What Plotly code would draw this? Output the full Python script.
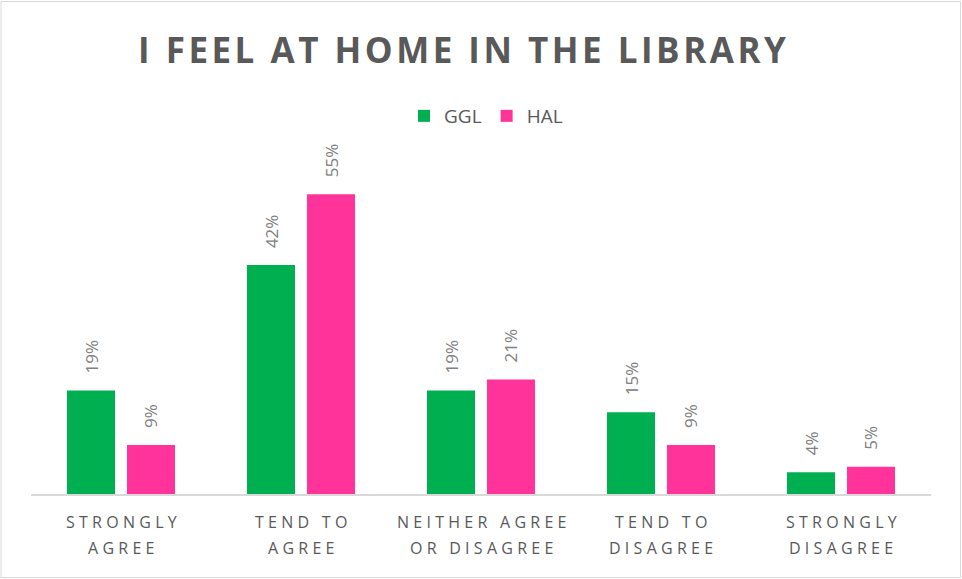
import plotly.graph_objects as go

categories = ["STRONGLY<br>AGREE", "TEND TO<br>AGREE", "NEITHER AGREE<br>OR DISAGREE", "TEND TO<br>DISAGREE", "STRONGLY<br>DISAGREE"]
ggl = [19, 42, 19, 15, 4]
hal = [9, 55, 21, 9, 5]
series_names = ["GGL", "HAL"]
title_text = "I FEEL AT HOME IN THE LIBRARY"

GREEN = "#00B050"
PINK = "#FF3399"
W, H = 962, 579
ML, MR, MT, MB = 31, 31, 167, 85
PW, PH = W - ML - MR, H - MT - MB


def spaced(s, sp="\u2009"):
    return sp.join(list(s))


idx = list(range(len(categories)))

fig = go.Figure()
fig.add_trace(go.Bar(x=idx, y=ggl, name=series_names[0], marker=dict(color=GREEN, line=dict(width=0))))
fig.add_trace(go.Bar(x=idx, y=hal, name=series_names[1], marker=dict(color=PINK, line=dict(width=0))))

# value labels
for off, vals in ((-1 / 6, ggl), (1 / 6, hal)):
    for i, v in enumerate(vals):
        fig.add_annotation(x=i + off, y=v, text=f"{v}%", textangle=-90, showarrow=False,
                           xref="x", yref="y", yanchor="bottom", xanchor="center", yshift=15,
                           font=dict(family="Open Sans", size=17, color="#808080"))

# category labels (two lines each)
for i, c in enumerate(categories):
    for j, line in enumerate(c.split("<br>")):
        fig.add_annotation(x=i, y=0, xref="x", yref="paper", yshift=-(28 + 26 * j),
                           text=spaced(line, "\u2009\u200a"), showarrow=False,
                           xanchor="center", yanchor="middle",
                           font=dict(family="Open Sans", size=16, color="#595959"))

fig.add_annotation(x=(462 - ML) / PW, y=(H - 50 - MB) / PH, xref="paper", yref="paper",
                   text="<b>" + spaced(title_text, "\u200a") + "</b>", showarrow=False,
                   xanchor="center", yanchor="middle",
                   font=dict(family="Open Sans", size=35, color="#595959"))

fig.add_shape(type="rect", xref="paper", yref="paper",
              x0=(1 - ML) / PW, x1=(W - 1.5 - ML) / PW,
              y0=-(MB - 1.5) / PH, y1=(H - 1.5 - MB) / PH,
              line=dict(color="#D9D9D9", width=1))

fig.update_layout(
    width=W, height=H,
    margin=dict(l=ML, r=MR, t=MT, b=MB),
    paper_bgcolor="white", plot_bgcolor="white",
    barmode="group", bargap=1 / 3, bargroupgap=0.2,
    showlegend=True,
    legend=dict(orientation="h", x=(486 - ML) / PW, xanchor="center", y=(H - 116 - MB) / PH, yanchor="middle",
                font=dict(family="Open Sans", size=19, color="#595959"), itemwidth=30, traceorder="normal"),
    xaxis=dict(tickmode="array", tickvals=idx, showticklabels=False, range=[-0.5, 4.5],
               showline=True, linecolor="#D9D9D9", linewidth=1.5, ticks="", showgrid=False),
    yaxis=dict(range=[0, 60], visible=False, showgrid=False, zeroline=False),
)

fig.write_html("out.html", config={"displayModeBar": False},
               post_script="document.body.style.margin='0px';document.body.style.overflow='hidden';")
